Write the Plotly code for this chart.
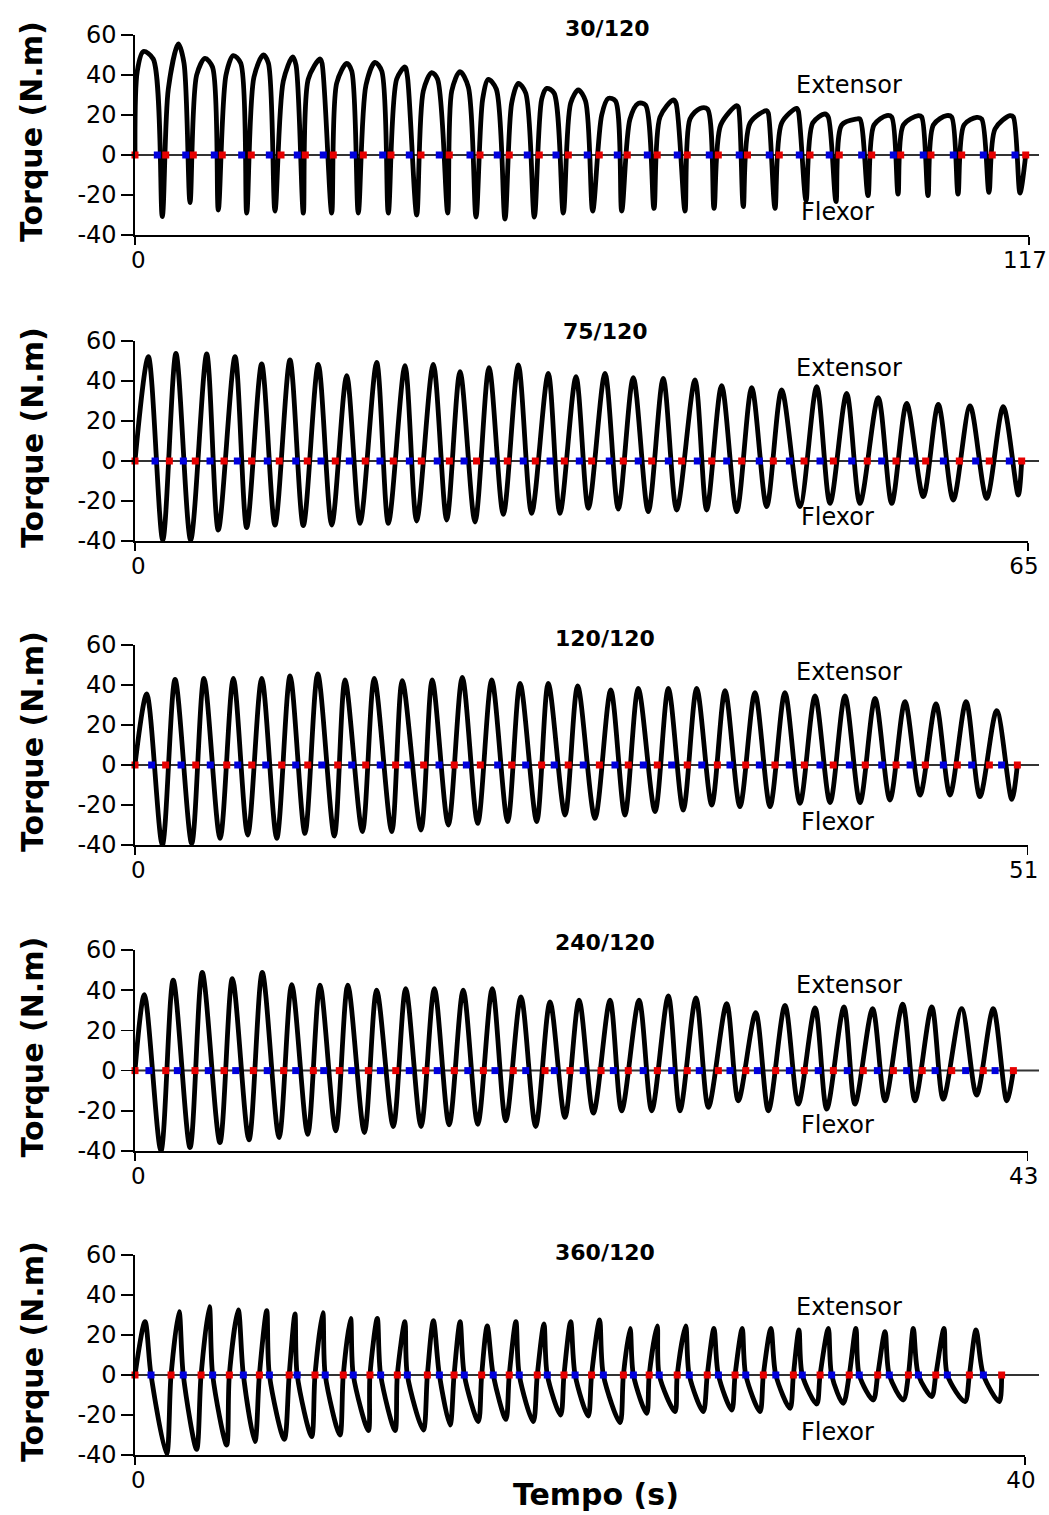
import plotly.graph_objects as go

# ---------------- Panel 1 : 30/120 (0-117 s) ----------------
p1_red = [0, 4.02, 7.63, 11.42, 15.22, 19.11, 22.29, 25.95, 29.88, 33.50, 37.43, 41.13, 45.15, 48.98, 52.91, 56.71,
          60.76, 64.43, 68.35, 72.28, 76.34, 80.16, 84.32, 88.34, 92.17, 96.41, 100.21, 104.17, 108.19, 112.19, 116.57]
p1_blue = [2.92, 6.64, 10.38, 13.96, 17.58, 21.24, 24.64, 28.57, 32.42, 35.90, 39.82, 43.84, 47.41, 51.34, 55.10,
           59.19, 63.12, 67.05, 70.97, 75.16, 79.08, 83.01, 86.94, 90.86, 95.10, 99.24, 103.16, 107.09, 111.02, 115.17]
p1_knee_t = [0.30, 4.36, 8.07, 11.91, 15.57, 19.41, 22.68, 26.40, 30.23, 34.25, 37.73, 41.45, 45.50, 49.30, 53.23,
             57.02, 61.08, 64.78, 68.71, 72.63, 76.65, 80.49, 84.63, 88.69, 92.49, 96.71, 100.55, 104.48, 108.49, 112.55]
p1_knee_v = [42, 33, 40, 40, 39, 37, 38, 36, 35, 38, 32, 32, 28, 26, 28, 26, 20, 18, 19, 18, 15, 16, 16, 16, 15, 15,
             15, 15, 15, 13]
p1_peak_t = [1.09, 5.67, 9.16, 12.86, 16.79, 20.64, 24.21, 27.71, 31.41, 35.34, 38.83, 42.53, 46.24, 50.16, 53.88,
             58.02, 61.94, 65.87, 70.45, 73.94, 78.75, 82.67, 86.60, 90.30, 94.45, 98.38, 102.51, 106.23, 110.15, 114.51]
p1_peak_v = [51.7, 55.5, 48.3, 49.7, 50, 49, 48, 45.8, 46.3, 44, 41.2, 41.7, 37.8, 35.8, 33.3, 32.5, 28.3, 25.8, 27.5,
             23.3, 24.7, 22.2, 23.3, 20.5, 18, 19.7, 19.7, 19.7, 18.8, 19.7]
p1_end_t = [2.39, 6.41, 10.14, 13.83, 17.45, 21.07, 24.47, 28.36, 32.29, 35.66, 39.59, 43.62, 47.28, 51.13, 54.84,
            58.96, 62.88, 66.81, 70.80, 74.92, 78.96, 82.88, 86.81, 90.73, 94.88, 99.03, 102.96, 106.88, 110.81, 114.95]
p1_end_v = [48, 46, 44, 46, 46, 45, 46, 42, 42, 39, 38, 34, 33, 31, 31, 27, 27, 25, 26, 23, 24, 21, 22, 19, 18, 19,
            19, 19, 18, 19]
p1_trough_t = [3.57, 7.20, 10.90, 14.62, 18.32, 22.03, 25.74, 29.22, 33.15, 36.87, 40.92, 44.63, 48.42, 52.26, 56.05,
               59.90, 63.70, 67.92, 71.98, 75.78, 79.61, 83.76, 87.82, 91.74, 95.93, 99.86, 103.78, 107.71, 111.76,
               115.82]
p1_trough_v = [-30.8, -23.8, -27.5, -29, -28, -29, -29, -29, -29, -30, -29, -31, -32, -31, -29, -28, -28, -26.7, -28,
               -26.7, -25.8, -26.7, -22.8, -23.3, -20.3, -19.5, -20.3, -19.5, -18.7, -19]

# ---------------- Panel 2 : 75/120 (0-65 s) ----------------
p2_red = [0, 2.50, 4.39, 6.48, 8.49, 10.50, 12.54, 14.58, 16.76, 18.80, 20.84, 22.88, 24.86, 27.10, 29.14, 31.25,
          33.24, 35.54, 37.61, 39.79, 41.98, 44.16, 46.46, 48.70, 50.83, 53.30, 55.39, 57.55, 60.00, 62.18, 64.54]
p2_blue = [1.46, 3.52, 5.46, 7.45, 9.63, 11.70, 13.54, 15.60, 17.83, 19.97, 22.00, 23.95, 26.08, 28.26, 30.21, 32.34,
           34.52, 36.63, 38.82, 40.93, 43.07, 45.44, 47.63, 49.86, 52.17, 54.35, 56.58, 58.84, 61.19, 63.64]
p2_peak_t = [0.97, 2.98, 5.22, 7.28, 9.22, 11.28, 13.34, 15.41, 17.59, 19.65, 21.71, 23.66, 25.77, 27.90, 30.08,
             32.10, 34.21, 36.27, 38.45, 40.76, 42.70, 44.89, 47.07, 49.62, 51.80, 54.10, 56.17, 58.47, 60.78, 63.20]
p2_peak_v = [52.2, 53.8, 53.5, 52.2, 48.5, 50.5, 48.3, 42.7, 49.3, 47.7, 48.3, 44.7, 46.7, 48, 43.8, 42.2, 43.8, 41.7,
             41.3, 40.5, 37.7, 36.7, 35.5, 37.2, 33.8, 31.7, 28.8, 28.3, 27.5, 27.2]
p2_trough_t = [2.02, 4.05, 6.06, 8.13, 10.19, 12.25, 14.32, 16.38, 18.44, 20.50, 22.69, 24.75, 26.81, 28.87, 30.93,
               33.00, 35.18, 37.36, 39.43, 41.61, 43.80, 45.98, 48.40, 50.59, 52.77, 55.08, 57.38, 59.56, 61.99, 64.29]
p2_trough_v = [-39.5, -39.5, -34.5, -33.3, -32, -32.3, -32, -31.2, -31.2, -30, -29.5, -30.5, -26.7, -26.2, -26.2,
               -23.7, -24, -25.3, -24.5, -24.5, -25.3, -22.8, -22.8, -21.2, -21.2, -21.2, -17.8, -19.5, -18.7, -17]

# ---------------- Panel 3 : 120/120 (0-51 s) ----------------
p3_red = [0, 1.75, 3.47, 5.24, 6.67, 8.38, 9.87, 11.58, 13.18, 14.89, 16.49, 18.24, 19.73, 21.52, 23.23, 24.75,
          26.53, 28.18, 29.84, 31.55, 33.27, 34.89, 36.56, 38.24, 39.89, 41.72, 43.48, 45.15, 46.98, 48.81, 50.41]
p3_blue = [0.95, 2.63, 4.30, 5.87, 7.47, 9.18, 10.67, 12.38, 14.01, 15.58, 17.37, 18.93, 20.72, 22.32, 23.95, 25.61,
           27.42, 29.04, 30.66, 32.38, 33.99, 35.67, 37.38, 39.13, 40.81, 42.66, 44.28, 46.18, 47.80, 49.51]
p3_peak_t = [0.67, 2.29, 3.94, 5.62, 7.24, 8.86, 10.44, 12.00, 13.67, 15.27, 16.98, 18.70, 20.38, 22.00, 23.61,
             25.29, 27.18, 28.75, 30.47, 32.09, 33.71, 35.42, 37.13, 38.85, 40.56, 42.28, 43.99, 45.76, 47.48, 49.23]
p3_peak_v = [35.5, 42.8, 43.3, 43.3, 43.3, 44.5, 45.5, 42.5, 43.3, 42.2, 42.5, 43.8, 42.5, 40.8, 40.8, 39.5, 37.5,
             38.3, 38.3, 38.3, 37.2, 36.2, 36.2, 34.5, 34.5, 33.3, 31.7, 30.5, 31.7, 27.2]
p3_trough_t = [1.56, 3.24, 4.86, 6.44, 8.10, 9.71, 11.39, 12.99, 14.67, 16.34, 17.90, 19.58, 21.29, 22.95, 24.57,
               26.28, 27.99, 29.71, 31.32, 32.95, 34.56, 36.28, 37.99, 39.71, 41.42, 43.13, 44.85, 46.56, 48.27, 50.09]
p3_trough_v = [-40, -39.2, -36.7, -35, -36.7, -34.2, -35.5, -33.3, -33.3, -32.5, -30, -29.2, -28.3, -28.3, -25,
               -26.7, -25, -23.3, -22.5, -20, -20.8, -20.8, -19.2, -18.8, -18.8, -17.5, -15, -15, -15.8, -17.2]

# ---------------- Panel 4 : 240/120 (0-43 s) ----------------
p4_red = [0, 1.48, 2.89, 4.29, 5.70, 7.16, 8.59, 9.84, 11.24, 12.56, 14.00, 15.38, 16.78, 18.22, 19.75, 20.95, 22.45,
          23.76, 25.16, 26.60, 28.10, 29.42, 30.86, 32.24, 33.64, 35.08, 36.53, 37.92, 39.34, 40.86, 42.31]
p4_blue = [0.67, 2.04, 3.53, 4.85, 6.37, 7.74, 9.09, 10.44, 11.82, 13.21, 14.56, 16.03, 17.34, 18.82, 20.20, 21.59,
           23.04, 24.48, 25.85, 27.18, 28.66, 29.98, 31.52, 32.91, 34.31, 35.76, 37.17, 38.54, 40.01, 41.43]
p4_peak_t = [0.45, 1.84, 3.24, 4.69, 6.13, 7.55, 8.91, 10.25, 11.64, 13.04, 14.42, 15.81, 17.21, 18.59, 19.99, 21.39,
             22.88, 24.28, 25.69, 27.02, 28.50, 29.90, 31.31, 32.76, 34.15, 35.53, 36.98, 38.38, 39.82, 41.34]
p4_peak_v = [37.8, 45, 48.8, 45.8, 48.8, 42.8, 42.5, 42.5, 40, 40.8, 40.8, 40, 40.8, 36.7, 34.2, 35, 35, 35, 37.2,
             36.2, 33.3, 28.8, 32.5, 31.2, 31.7, 30.8, 33, 31.7, 30.8, 30.8]
p4_trough_t = [1.25, 2.65, 4.09, 5.49, 6.94, 8.32, 9.67, 11.05, 12.44, 13.78, 15.13, 16.51, 17.86, 19.30, 20.71,
               22.08, 23.44, 24.89, 26.25, 27.62, 29.06, 30.51, 31.95, 33.32, 34.68, 36.13, 37.57, 38.93, 40.54, 41.99]
p4_trough_v = [-40, -38.3, -35.8, -34.5, -33.3, -31.7, -30, -30.8, -27.8, -27.8, -27, -26.7, -25, -27.8, -23.3, -21.2,
               -20, -20, -20, -18.3, -15, -20, -16.7, -19.2, -16.7, -15, -15, -14.2, -12.2, -15]

# ---------------- Panel 5 : 360/120 (0-40 s) ----------------
p5_red = [0, 1.62, 2.97, 4.24, 5.59, 6.93, 8.09, 9.36, 10.56, 11.79, 13.14, 14.34, 15.58, 16.82, 18.08, 19.28, 20.52,
          21.95, 23.11, 24.37, 25.72, 26.97, 28.24, 29.59, 30.79, 32.10, 33.38, 34.76, 35.99, 37.50, 38.95]
p5_blue = [0.72, 2.17, 3.49, 4.87, 6.04, 7.29, 8.55, 9.81, 11.04, 12.24, 13.68, 14.80, 16.10, 17.27, 18.53, 19.78,
           21.05, 22.40, 23.56, 24.91, 26.22, 27.45, 28.80, 29.99, 31.31, 32.55, 33.90, 35.21, 36.51, 38.13]
p5_peak_t = [0.45, 1.98, 3.34, 4.64, 5.92, 7.19, 8.44, 9.69, 10.89, 12.13, 13.41, 14.61, 15.83, 17.12, 18.38, 19.58,
             20.88, 22.25, 23.47, 24.75, 26.02, 27.29, 28.58, 29.84, 31.16, 32.40, 33.71, 34.98, 36.36, 37.80]
p5_peak_v = [26.7, 31.7, 34.2, 32.5, 32.2, 30.5, 31.2, 28.3, 28.3, 26.7, 27.2, 26.7, 24.5, 26.7, 25.5, 26.7, 27.5,
             23.3, 24.5, 24.5, 23.3, 23.3, 23.3, 22.5, 23.3, 23.3, 21.7, 23.3, 23.3, 22.5]
p5_trough_t = [1.42, 2.77, 4.12, 5.39, 6.71, 7.94, 9.21, 10.49, 11.69, 12.96, 14.16, 15.43, 16.67, 17.90, 19.13,
               20.37, 21.80, 23.00, 24.27, 25.54, 26.82, 28.09, 29.44, 30.64, 31.83, 33.18, 34.53, 35.81, 37.30, 38.84]
p5_trough_v = [-39.5, -37.2, -35, -33.3, -32.2, -30.8, -30, -27.8, -27.8, -27.5, -25, -23.3, -22.2, -23.3, -20,
               -20.5, -23.8, -19.2, -18.3, -18.3, -17.5, -18.3, -16.7, -14.5, -14.2, -12.5, -12.5, -10.8, -13.3, -13.3]

titles = ["30/120", "75/120", "120/120", "240/120", "360/120"]
x_end = [117, 65, 51, 43, 40]
y_ticks = [-40, -20, 0, 20, 40, 60]

# ---------------- layout geometry (pixels) ----------------
W, H = 1049, 1515
X_LEFT = 135
x_right_px = [1029, 1028, 1027.7, 1027.7, 1025]
y_top_px = [35, 341, 645, 950, 1255]
y_bot_px = [235, 541, 845, 1151, 1455]
title_pos = [(607, 29), (605, 331), (605, 638), (605, 943), (605, 1252)]
ext_y = [85, 368, 672, 985, 1307]
flex_y = [212, 517, 822, 1125, 1432]


def px(x):
    return x / W


def py(y):
    return 1 - y / H


FONT = "DejaVu Sans"
NB = "\u00a0"

reds = [p1_red, p2_red, p3_red, p4_red, p5_red]
blues = [p1_blue, p2_blue, p3_blue, p4_blue, p5_blue]
peaks_t = [p1_peak_t, p2_peak_t, p3_peak_t, p4_peak_t, p5_peak_t]
peaks_v = [p1_peak_v, p2_peak_v, p3_peak_v, p4_peak_v, p5_peak_v]
troughs_t = [p1_trough_t, p2_trough_t, p3_trough_t, p4_trough_t, p5_trough_t]
troughs_v = [p1_trough_v, p2_trough_v, p3_trough_v, p4_trough_v, p5_trough_v]


def build_vertices(k):
    xs, ys = [0], [0]
    if k == 0:
        for kt, kv, pt, pv, et, ev, tt, tv in zip(p1_knee_t, p1_knee_v, p1_peak_t, p1_peak_v,
                                                  p1_end_t, p1_end_v, p1_trough_t, p1_trough_v):
            xs += [kt, pt, et, tt]
            ys += [kv, pv, ev, tv]
        xs.append(reds[k][-1])
        ys.append(0)
    elif k == 4:
        # fastest speed: the trace crosses zero right at the blue / red markers
        for pt, pv, bt, tt, tv, rt in zip(peaks_t[k], peaks_v[k], blues[k], troughs_t[k], troughs_v[k],
                                          reds[k][1:]):
            xs += [pt, bt, tt, rt]
            ys += [pv, 0, tv, 0]
    else:
        for pt, pv, tt, tv in zip(peaks_t[k], peaks_v[k], troughs_t[k], troughs_v[k]):
            xs += [pt, tt]
            ys += [pv, tv]
        xs.append(reds[k][-1])
        ys.append(0)
    return xs, ys


fig = go.Figure()
shapes = []
annotations = []
layout_axes = {}

for k in range(5):
    sfx = "" if k == 0 else str(k + 1)
    xa, ya = "x" + sfx, "y" + sfx
    vx, vy = build_vertices(k)
    fig.add_trace(go.Scatter(x=vx, y=vy, mode="lines", xaxis=xa, yaxis=ya,
                             line=dict(color="black", width=4.8, shape="spline", smoothing=0.85),
                             hoverinfo="skip", showlegend=False))
    fig.add_trace(go.Scatter(x=blues[k], y=[0] * len(blues[k]), mode="markers", xaxis=xa, yaxis=ya,
                             marker=dict(symbol="square", size=7, color="#0000dd", line=dict(width=0)),
                             cliponaxis=False, hoverinfo="skip", showlegend=False))
    fig.add_trace(go.Scatter(x=reds[k], y=[0] * len(reds[k]), mode="markers", xaxis=xa, yaxis=ya,
                             marker=dict(symbol="square", size=7, color="#e60000", line=dict(width=0)),
                             cliponaxis=False, hoverinfo="skip", showlegend=False))

    layout_axes["xaxis" + sfx] = dict(
        domain=[px(X_LEFT), px(x_right_px[k])], range=[0, x_end[k]], anchor=ya, automargin=False,
        showline=True, linecolor="black", linewidth=1.6, ticks="outside", ticklen=8,
        tickwidth=1.6, tickcolor="black", tickvals=[0, x_end[k]],
        ticktext=[NB + NB + "0", str(x_end[k])], ticklabeloverflow="allow", ticklabelshift=-4,
        tickfont=dict(family=FONT, size=23, color="black"), showgrid=False, zeroline=False,
        ticklabelstandoff=-4)
    layout_axes["yaxis" + sfx] = dict(
        domain=[py(y_bot_px[k]), py(y_top_px[k])], range=[-40, 60], anchor=xa, automargin=False,
        showline=True, linecolor="black", linewidth=1.6, ticks="outside", ticklen=12,
        tickwidth=1.6, tickcolor="black", tickvals=y_ticks, ticktext=[str(v) for v in y_ticks],
        ticklabeloverflow="allow",
        tickfont=dict(family=FONT, size=24, color="black"), showgrid=False, zeroline=False)

    shapes.append(dict(type="line", xref="paper", yref=ya, x0=px(X_LEFT), x1=px(1039), y0=0, y1=0,
                       line=dict(color="#333333", width=2), layer="below"))

    tx, ty = title_pos[k]
    annotations.append(dict(x=px(tx), y=py(ty), xref="paper", yref="paper", text="<b>%s</b>" % titles[k],
                            showarrow=False, xanchor="center", yanchor="middle",
                            font=dict(family=FONT, size=22, color="black")))
    annotations.append(dict(x=px(849), y=py(ext_y[k]), xref="paper", yref="paper", text="Extensor",
                            showarrow=False, xanchor="center", yanchor="middle",
                            font=dict(family=FONT, size=24, color="black")))
    annotations.append(dict(x=px(837), y=py(flex_y[k]), xref="paper", yref="paper", text="Flexor",
                            showarrow=False, xanchor="center", yanchor="middle",
                            font=dict(family=FONT, size=24, color="black")))
    annotations.append(dict(x=px(32), y=py((y_top_px[k] + y_bot_px[k]) / 2 - 3), xref="paper", yref="paper",
                            text="<b>Torque (N.m)</b>", textangle=-90, showarrow=False,
                            xanchor="center", yanchor="middle",
                            font=dict(family=FONT, size=30, color="black")))

annotations.append(dict(x=px(596), y=py(1494), xref="paper", yref="paper", text="<b>Tempo (s)</b>",
                        showarrow=False, xanchor="center", yanchor="middle",
                        font=dict(family=FONT, size=30, color="black")))

fig.update_layout(width=W, height=H, margin=dict(l=0, r=0, t=0, b=0, autoexpand=False), paper_bgcolor="white",
                  plot_bgcolor="white", showlegend=False, shapes=shapes, annotations=annotations,
                  hovermode=False, **layout_axes)

fig.write_html("out.html", config={"displayModeBar": False, "staticPlot": True},
               post_script="document.body.style.margin='0px';document.body.style.padding='0px';"
                           "document.documentElement.style.overflow='hidden';")
